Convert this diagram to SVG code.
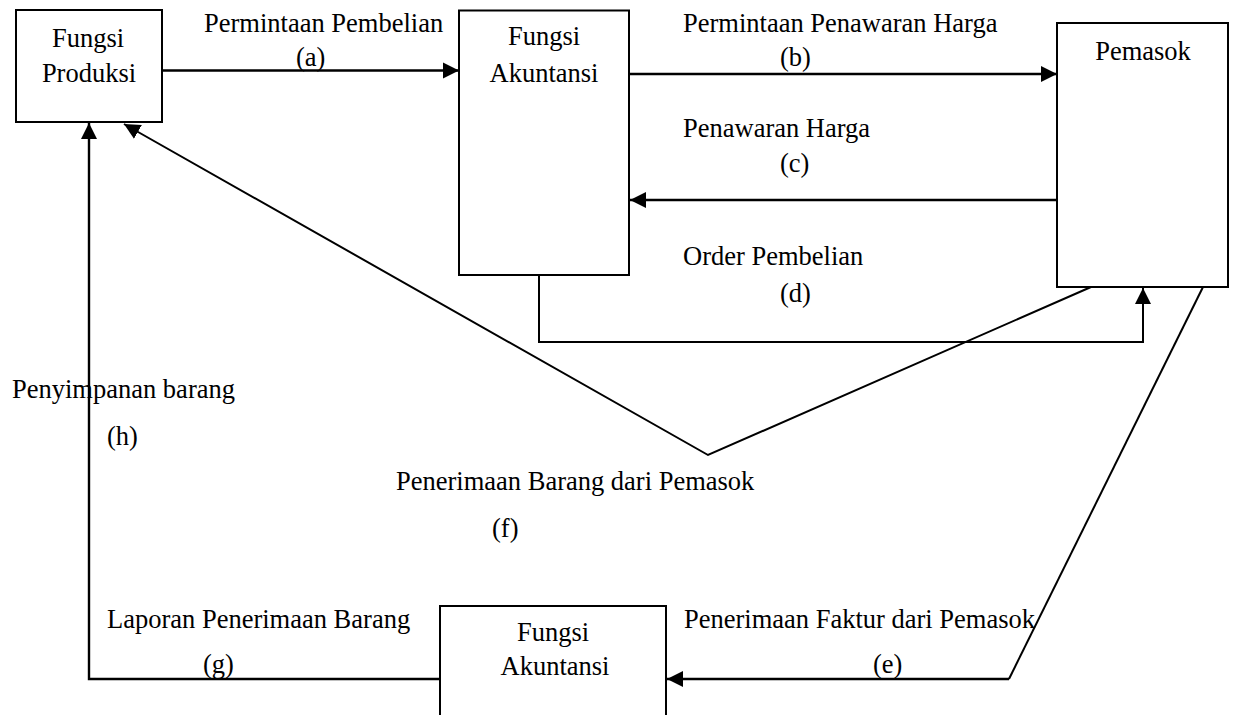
<svg xmlns="http://www.w3.org/2000/svg" width="1237" height="715" viewBox="0 0 1237 715">
<style>
  .box { fill: #fff; stroke: #000; stroke-width: 2; }
  .con { fill: none; stroke: #000; stroke-width: 2.4; }
  .thin { fill: none; stroke: #000; stroke-width: 2; }
  text { font-family: "Liberation Serif", "Times New Roman", serif; font-size: 26.5px; fill: #000; }
  .mid { text-anchor: middle; }
</style>
<defs>
  <marker id="arr" markerUnits="userSpaceOnUse" markerWidth="17" markerHeight="18" refX="16" refY="8" orient="auto" viewBox="0 0 17 16">
    <path d="M0,0 L16,8 L0,16 z" fill="#000"/>
  </marker>
</defs>
<rect width="1237" height="715" fill="#fff"/>
<g id="connectors">
  <line class="con" x1="162" y1="70.5" x2="459" y2="70.5" marker-end="url(#arr)"/>
  <line class="con" x1="629" y1="74" x2="1057" y2="74" marker-end="url(#arr)"/>
  <line class="con" x1="1057" y1="200" x2="630" y2="200" marker-end="url(#arr)"/>
  <path class="thin" d="M539,275 V342 H1143 V288" marker-end="url(#arr)"/>
  <path class="thin" d="M1091,287 L708,455 L124,124" marker-end="url(#arr)"/>
  <path class="thin" d="M1203,287 L1009,679" />
  <line class="con" x1="1009" y1="679" x2="667" y2="679" marker-end="url(#arr)"/>
  <path class="con" d="M440,679 H89 V123" marker-end="url(#arr)"/>
</g>
<g id="node-produksi">
  <rect class="box" x="16" y="10" width="146" height="112"/>
  <text class="mid" x="88" y="47">Fungsi</text>
  <text class="mid" x="89" y="82">Produksi</text>
</g>
<g id="node-akuntansi">
  <rect class="box" x="459" y="10.5" width="170" height="264.5"/>
  <text class="mid" x="544" y="45">Fungsi</text>
  <text class="mid" x="544" y="82">Akuntansi</text>
</g>
<g id="node-pemasok">
  <rect class="box" x="1057" y="23" width="171" height="264"/>
  <text class="mid" x="1143" y="60">Pemasok</text>
</g>
<g id="node-akuntansi-2">
  <rect class="box" x="440" y="606" width="226" height="130"/>
  <text class="mid" x="553" y="641">Fungsi</text>
  <text class="mid" x="555" y="675">Akuntansi</text>
</g>
<g id="labels">
  <text x="204" y="32">Permintaan Pembelian</text>
  <text x="296" y="66">(a)</text>
  <text x="683" y="32">Permintaan Penawaran Harga</text>
  <text x="780" y="66">(b)</text>
  <text x="683" y="137">Penawaran Harga</text>
  <text x="780" y="172">(c)</text>
  <text x="683" y="265">Order Pembelian</text>
  <text x="780" y="302">(d)</text>
  <text x="12" y="398">Penyimpanan barang</text>
  <text x="107" y="445">(h)</text>
  <text x="396" y="490">Penerimaan Barang dari Pemasok</text>
  <text x="492" y="537">(f)</text>
  <text x="107" y="628">Laporan Penerimaan Barang</text>
  <text x="203" y="673">(g)</text>
  <text x="684" y="628">Penerimaan Faktur dari Pemasok</text>
  <text x="873" y="673">(e)</text>
</g>
</svg>
